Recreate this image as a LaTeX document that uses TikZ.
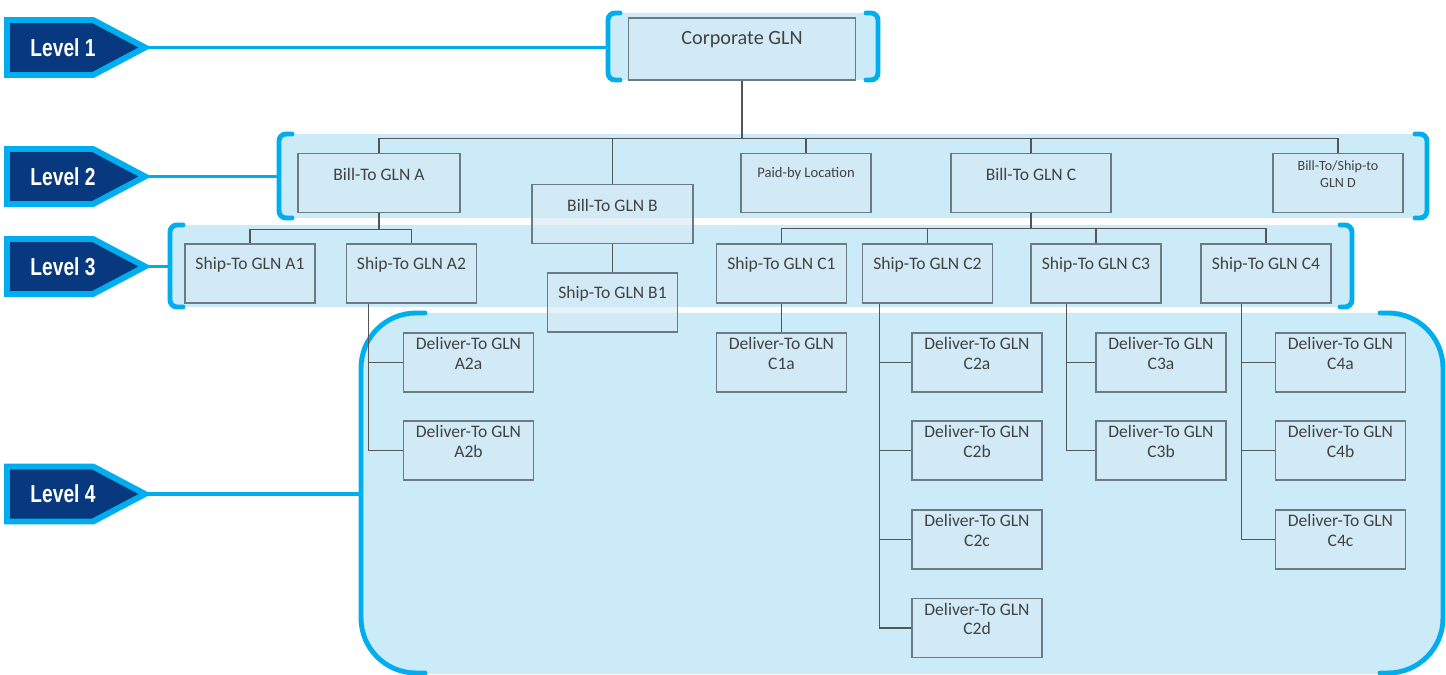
\documentclass[tikz,border=0pt]{standalone}
\usepackage{fontspec}
\setmainfont{Carlito}
\newfontfamily\tagfont{Liberation Sans}[FakeStretch=0.78]
\usetikzlibrary{calc}

\definecolor{navy}{RGB}{8,56,125}
\definecolor{skyline}{RGB}{0,174,239}
\definecolor{areafill}{RGB}{203,235,248}
\definecolor{boxfill}{RGB}{214,234,243}
\definecolor{boxline}{RGB}{108,122,132}
\definecolor{linkgray}{RGB}{85,85,85}
\definecolor{textgray}{RGB}{66,66,66}

\begin{document}
\begin{tikzpicture}[x=0.02cm, y=-0.02cm,
    area/.style={fill=areafill},
    brk/.style={draw=skyline, line width=2.8pt, line cap=round, rounded corners=4pt},
    lvl/.style={draw=skyline, line width=1.8pt},
    tag/.style={fill=navy, draw=skyline, line width=3.4pt, line join=miter},
    tagtext/.style={text=white, font=\tagfont\bfseries\fontsize{14}{16}\selectfont},
    boxtext/.style={text=textgray, font=\fontsize{10}{11}\selectfont, align=center, yshift=0.18cm, inner sep=0pt},
    box/.style={draw=boxline, fill=boxfill, fill opacity=.6, line width=.9pt, minimum width=2.6cm, minimum height=1.18cm, label={[boxtext]center:#1}},
    link/.style={draw=linkgray, line width=.7pt}]
    \useasboundingbox (0,0) rectangle (1446,675);

    % shaded level areas
    \fill[area] (608,13) rectangle (878,80);
    \fill[area] (279,134) rectangle (1427,218);
    \fill[area] (170,225) rectangle (1352,307);
    \fill[area, rounded corners=1.1cm] (361,313) rectangle (1443,674);

    % brackets
    \draw[brk] (620,13) -- (608,13) -- (608,80) -- (620,80);
    \draw[brk] (866,13) -- (878,13) -- (878,80) -- (866,80);
    \draw[brk] (292,134) -- (279,134) -- (279,218) -- (292,218);
    \draw[brk] (1415,134) -- (1427,134) -- (1427,218) -- (1415,218);
    \draw[brk] (183,225) -- (170,225) -- (170,307) -- (183,307);
    \draw[brk] (1340,225) -- (1352,225) -- (1352,307) -- (1340,307);
    \draw[brk, rounded corners=1.1cm] (425,313) -- (361,313) -- (361,673) -- (425,673);
    \draw[brk, rounded corners=1.1cm] (1380,313) -- (1443,313) -- (1443,673) -- (1380,673);
    \coordinate (b1) at (608,47.5);
    \coordinate (b2) at (279,176.5);
    \coordinate (b3) at (170,266.5);
    \coordinate (b4) at (361,494);

    % level tags
    \foreach \y/\t in {47.5/1, 176.5/2, 266.5/3, 494/4}
    {
        \draw[tag] (7,\y-27.5) -- (93,\y-27.5) -- (145,\y) -- (93,\y+27.5) -- (7,\y+27.5) -- cycle;
        \node[tagtext] (L\t) at (63,\y) {Level \t};
        \coordinate (tip\t) at (146,\y);
    }
    \foreach \t in {1,2,3,4}
        \draw[lvl] (tip\t) -- (b\t);

    % level 1
    \node[box, minimum width=4.54cm, minimum height=1.24cm, label={[boxtext, font=\fontsize{11.5}{13}\selectfont]center:Corporate GLN}] (corp) at (742,49) {};

    % level 2
    \node[box=Bill-To GLN A, minimum width=3.24cm] (A) at (379,183) {};
    \node[box=Bill-To GLN B, minimum width=3.22cm] (B) at (612.5,214) {};
    \node[box, label={[boxtext, font=\fontsize{8.3}{10}\selectfont]center:Paid-by Location}] (paid) at (806,183) {};
    \node[box=Bill-To GLN C, minimum width=3.2cm] (C) at (1031,183) {};
    \node[box, label={[boxtext, font=\fontsize{8}{9.5}\selectfont]center:Bill-To/Ship-to\\GLN D}] (D) at (1338,183) {};

    % level 3
    \node[box=Ship-To GLN A1] (A1) at (250,273.5) {};
    \node[box=Ship-To GLN A2] (A2) at (411.5,273.5) {};
    \node[box=Ship-To GLN B1] (B1) at (612.5,302.5) {};
    \node[box=Ship-To GLN C1] (C1) at (781.5,273.5) {};
    \node[box=Ship-To GLN C2] (C2) at (927.5,273.5) {};
    \node[box=Ship-To GLN C3] (C3) at (1096,273.5) {};
    \node[box=Ship-To GLN C4] (C4) at (1266,273.5) {};

    % level 4
    \node[box={Deliver-To GLN\\A2a}] (A2a) at (468.5,362.5) {};
    \node[box={Deliver-To GLN\\A2b}] (A2b) at (468.5,450.5) {};
    \node[box={Deliver-To GLN\\C1a}] (C1a) at (781.5,362.5) {};
    \node[box={Deliver-To GLN\\C2a}] (C2a) at (977,362.5) {};
    \node[box={Deliver-To GLN\\C2b}] (C2b) at (977,450.5) {};
    \node[box={Deliver-To GLN\\C2c}] (C2c) at (977,539.5) {};
    \node[box={Deliver-To GLN\\C2d}] (C2d) at (977,628) {};
    \node[box={Deliver-To GLN\\C3a}] (C3a) at (1161,362.5) {};
    \node[box={Deliver-To GLN\\C3b}] (C3b) at (1161,450.5) {};
    \node[box={Deliver-To GLN\\C4a}] (C4a) at (1340.5,362.5) {};
    \node[box={Deliver-To GLN\\C4b}] (C4b) at (1340.5,450.5) {};
    \node[box={Deliver-To GLN\\C4c}] (C4c) at (1340.5,539.5) {};

    % connectors
    \draw[link] (corp.south) -- ++(0,58) coordinate (bus2);
    \foreach \n in {A,B,paid,C,D}
        \draw[link] (bus2) -| (\n.north);
    \draw[link] (A.south) -- ++(0,16) coordinate (busA);
    \foreach \n in {A1,A2}
        \draw[link] (busA) -| (\n.north);
    \draw[link] (B) -- (B1);
    \draw[link] (C.south) -- ++(0,15) coordinate (busC);
    \foreach \n in {C1,C2,C3,C4}
        \draw[link] (busC) -| (\n.north);
    \draw[link] (C1) -- (C1a);
    \foreach \p/\d/\kids in {A2/23/{A2a,A2b}, C2/18/{C2a,C2b,C2c,C2d}, C3/36/{C3a,C3b}, C4/41/{C4a,C4b,C4c}}
        \foreach \k in \kids
            \draw[link] ($(\p.south west)+(\d,0)$) |- (\k.west);
\end{tikzpicture}
\end{document}
